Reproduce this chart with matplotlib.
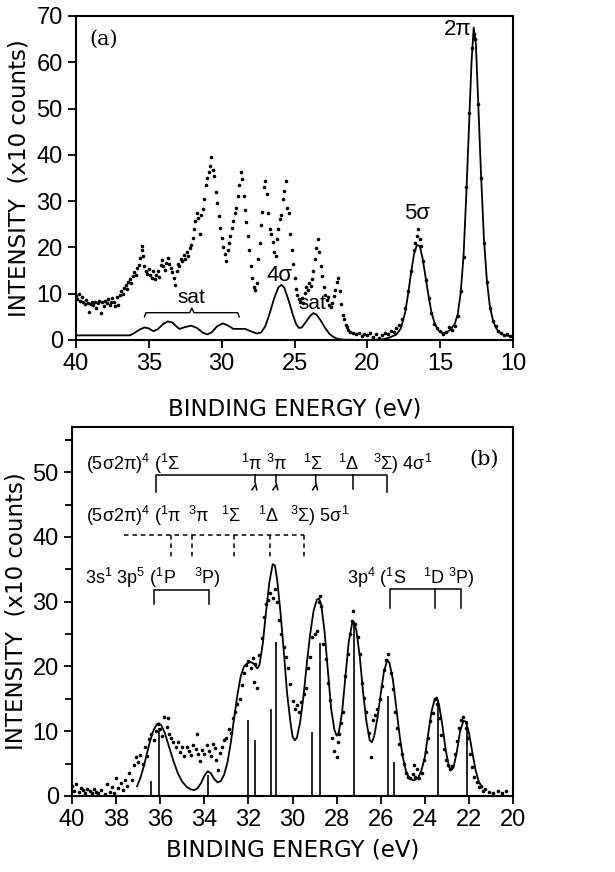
import matplotlib
matplotlib.use('Agg')
import matplotlib.pyplot as plt
from matplotlib import font_manager
from matplotlib.ticker import MultipleLocator
import numpy as np

# ---------------- panel (a): valence photoelectron spectrum ----------------
# measured points (binding energy eV, intensity x10 counts)
a_measured = [
    (40.0, 9.5), (39.9, 8.8), (39.8, 9.9), (39.7, 8.5), (39.6, 9.2), (39.5, 8.1),
    (39.4, 7.8), (39.3, 8.6), (39.2, 8.0), (39.1, 6.0), (39.0, 7.7), (38.9, 8.3),
    (38.8, 7.5), (38.7, 8.1), (38.6, 7.0), (38.5, 7.9), (38.4, 8.4), (38.3, 5.9),
    (38.2, 8.2), (38.1, 7.4), (38.0, 8.5), (37.9, 8.0), (37.8, 8.8), (37.7, 7.6),
    (37.6, 8.3), (37.5, 9.0), (37.4, 8.2), (37.3, 7.3), (37.2, 9.3), (37.1, 7.6),
    (37.0, 9.8), (36.9, 10.5), (36.8, 9.9), (36.7, 11.2), (36.6, 11.8), (36.5, 11.0),
    (36.4, 12.5), (36.3, 13.1), (36.2, 12.4), (36.1, 13.8), (36.0, 14.6), (35.9, 14.0),
    (35.8, 15.5), (35.7, 16.2), (35.6, 17.8), (35.5, 19.4), (35.45, 20.2), (35.4, 18.2),
    (35.3, 16.0), (35.2, 15.0), (35.1, 14.2), (35.0, 15.3), (34.9, 14.0), (34.8, 13.5),
    (34.7, 14.8), (34.6, 13.2), (34.5, 14.1), (34.4, 15.0), (34.3, 13.6), (34.2, 16.2),
    (34.1, 17.2), (34.0, 16.0), (33.9, 15.2), (33.8, 16.6), (33.7, 17.8), (33.6, 16.4),
    (33.5, 15.6), (33.4, 14.6), (33.3, 13.5), (33.2, 11.8), (33.1, 15.0), (33.0, 16.5),
    (32.9, 15.9), (32.8, 17.6), (32.7, 17.0), (32.6, 18.3), (32.5, 17.5), (32.4, 19.0),
    (32.3, 18.2), (32.2, 19.8), (32.1, 20.5), (32.0, 22.0), (31.9, 24.0), (31.8, 25.8),
    (31.7, 27.5), (31.6, 26.4), (31.5, 22.8), (31.4, 27.0), (31.3, 28.2), (31.2, 30.5),
    (31.1, 33.5), (31.0, 35.0), (30.9, 36.2), (30.8, 37.5), (30.7, 39.6), (30.6, 36.8),
    (30.5, 35.5), (30.4, 32.0), (30.3, 29.5), (30.2, 26.8), (30.1, 24.3), (30.0, 22.0),
    (29.9, 20.0), (29.8, 18.5), (29.7, 17.0), (29.6, 19.5), (29.5, 21.0), (29.4, 22.5),
    (29.3, 24.2), (29.2, 25.8), (29.1, 27.4), (29.0, 28.5), (28.9, 31.0), (28.8, 33.5),
    (28.7, 36.2), (28.6, 34.8), (28.5, 31.2), (28.4, 28.0), (28.3, 25.5), (28.2, 22.5),
    (28.1, 19.5), (28.0, 16.0), (27.9, 13.5), (27.8, 11.5), (27.7, 10.9), (27.6, 12.4),
    (27.5, 17.5), (27.4, 21.0), (27.3, 24.8), (27.2, 27.6), (27.1, 33.0), (27.0, 34.4),
    (26.9, 31.5), (26.8, 27.5), (26.7, 24.0), (26.6, 22.8), (26.5, 21.2), (26.4, 19.0),
    (26.3, 18.2), (26.2, 21.8), (26.1, 24.0), (26.0, 26.2), (25.9, 27.0), (25.8, 30.5),
    (25.7, 32.2), (25.6, 34.3), (25.5, 28.5), (25.4, 27.5), (25.3, 23.0), (25.2, 19.5),
    (25.1, 16.5), (25.0, 13.5), (24.9, 11.0), (24.8, 9.8), (24.7, 8.9), (24.6, 8.3),
    (24.5, 9.0), (24.4, 8.0), (24.3, 10.2), (24.2, 11.5), (24.1, 10.8), (24.0, 12.3),
    (23.9, 11.6), (23.8, 13.2), (23.7, 14.8), (23.6, 17.5), (23.5, 19.8), (23.4, 21.8),
    (23.3, 19.0), (23.2, 16.0), (23.1, 13.8), (23.0, 11.5), (22.9, 9.8), (22.8, 8.6),
    (22.7, 9.2), (22.6, 7.6), (22.5, 7.2), (22.4, 8.0), (22.3, 9.5), (22.2, 10.8),
    (22.1, 12.6), (22.0, 13.5), (21.9, 10.5), (21.8, 7.8), (21.7, 5.5), (21.6, 4.5),
    (21.5, 3.2), (21.4, 2.8), (21.3, 2.2), (21.2, 1.8), (21.0, 1.5), (20.8, 1.2),
    (20.6, 1.6), (20.4, 0.8), (20.2, 1.4), (20.0, 1.0), (19.8, 1.6), (19.6, 0.6),
    (19.4, 1.2), (19.2, 0.4), (19.0, 1.0), (18.8, 1.6), (18.6, 1.2), (18.4, 2.0),
    (18.2, 1.8), (18.0, 2.6), (17.8, 3.2), (17.6, 4.5), (17.4, 7.0), (17.2, 10.5),
    (17.0, 14.8), (16.8, 19.5), (16.7, 21.0), (16.6, 22.5), (16.5, 24.0), (16.4, 21.8),
    (16.3, 20.2), (16.2, 17.0), (16.0, 13.0), (15.8, 9.0), (15.6, 5.8), (15.4, 3.5),
    (15.2, 2.5), (15.0, 2.0), (14.8, 1.2), (14.6, 1.8), (14.4, 2.8), (14.2, 2.2),
    (14.0, 3.0), (13.8, 5.2), (13.6, 10.5), (13.4, 18.0), (13.2, 33.0), (13.0, 49.0),
    (12.8, 63.0), (12.7, 66.0), (12.6, 65.0), (12.4, 51.0), (12.2, 35.0), (12.0, 21.0),
    (11.8, 12.5), (11.6, 7.0), (11.4, 4.0), (11.2, 3.0), (11.0, 2.0), (10.8, 1.5),
    (10.6, 1.0), (10.4, 1.2), (10.2, 0.8), (10.0, 0.6),
]

# calculated spectrum (solid line)
a_calc = [
    (40.0, 1.0), (37.0, 1.0), (36.3, 1.0), (36.0, 1.5), (35.6, 2.3), (35.3, 2.7),
    (35.0, 2.5), (34.7, 1.9), (34.4, 2.3), (34.0, 3.5), (33.7, 4.0), (33.4, 3.8),
    (33.1, 2.9), (32.9, 2.4), (32.5, 2.8), (32.1, 3.1), (31.7, 2.6), (31.3, 1.6),
    (31.0, 1.2), (30.7, 1.6), (30.3, 3.0), (29.9, 3.6), (29.5, 3.0), (29.2, 2.4),
    (28.8, 2.4), (28.4, 2.4), (28.0, 1.9), (27.6, 1.4), (27.3, 1.6), (27.0, 3.0),
    (26.7, 5.8), (26.4, 9.0), (26.1, 11.4), (25.9, 11.9), (25.7, 11.3), (25.4, 8.5),
    (25.1, 5.3), (24.9, 3.5), (24.7, 2.6), (24.5, 2.7), (24.2, 4.0), (23.9, 5.3),
    (23.7, 5.8), (23.5, 5.5), (23.2, 4.2), (22.9, 2.6), (22.6, 1.3), (22.3, 0.6),
    (22.0, 0.2), (21.5, 0.05), (20.0, 0.0), (19.0, 0.1), (18.5, 0.5), (18.0, 1.2),
    (17.7, 2.5), (17.4, 6.0), (17.2, 10.0), (17.0, 14.5), (16.8, 18.5), (16.6, 20.5),
    (16.4, 20.3), (16.2, 17.5), (16.0, 13.5), (15.8, 9.5), (15.6, 6.0), (15.4, 3.8),
    (15.2, 2.4), (15.0, 1.7), (14.8, 1.5), (14.6, 1.6), (14.3, 2.2), (14.0, 3.5),
    (13.8, 5.5), (13.6, 10.0), (13.4, 18.0), (13.2, 32.0), (13.0, 48.0), (12.85, 60.0),
    (12.7, 67.5), (12.55, 64.0), (12.4, 52.0), (12.2, 36.0), (12.0, 22.0), (11.8, 13.0),
    (11.6, 7.5), (11.4, 4.5), (11.2, 2.8), (11.0, 1.8), (10.6, 1.0), (10.0, 0.8),
]

# ---------------- panel (b): inner-valence region ----------------
b_measured = [
    (40.0, 1.6), (39.9, 0.8), (39.8, 1.9), (39.7, 0.6), (39.6, 1.3), (39.5, 0.9),
    (39.4, 0.4), (39.3, 1.0), (39.2, 0.7), (39.1, 0.5), (39.0, 1.1), (38.9, 0.6),
    (38.8, 0.4), (38.7, 0.9), (38.5, 0.3), (38.4, 1.9), (38.3, 0.6), (38.2, 1.4),
    (38.1, 0.5), (38.0, 2.8), (37.9, 1.2), (37.8, 2.0), (37.7, 0.9), (37.6, 2.5),
    (37.5, 1.6), (37.4, 3.5), (37.3, 2.4), (37.2, 4.8), (37.1, 6.0), (37.0, 5.2),
    (36.9, 6.4), (36.8, 5.0), (36.7, 7.6), (36.6, 6.1), (36.5, 8.8), (36.4, 9.6),
    (36.3, 8.6), (36.2, 10.0), (36.1, 11.1), (36.0, 10.3), (35.9, 9.2), (35.85, 12.2),
    (35.7, 10.6), (35.65, 12.0), (35.6, 9.5), (35.5, 8.9), (35.4, 8.4), (35.3, 7.6),
    (35.2, 8.3), (35.1, 6.8), (35.0, 7.5), (34.9, 6.2), (34.8, 7.6), (34.7, 7.0),
    (34.6, 6.4), (34.5, 7.8), (34.4, 7.2), (34.35, 9.6), (34.3, 6.5), (34.2, 5.4),
    (34.1, 7.1), (34.0, 6.5), (33.9, 7.8), (33.8, 7.0), (33.7, 6.1), (33.6, 8.0),
    (33.5, 7.4), (33.45, 5.5), (33.4, 4.0), (33.3, 6.6), (33.2, 7.6), (33.1, 8.6),
    (33.0, 9.0), (32.9, 10.4), (32.8, 9.8), (32.7, 12.1), (32.6, 12.9), (32.5, 14.2),
    (32.4, 15.0), (32.3, 17.2), (32.2, 19.0), (32.1, 20.3), (32.0, 20.9), (31.9, 19.8),
    (31.8, 21.3), (31.75, 17.6), (31.7, 20.4), (31.6, 16.6), (31.5, 21.8), (31.4, 24.4),
    (31.3, 27.6), (31.2, 29.6), (31.1, 30.2), (31.0, 31.4), (30.9, 30.6), (30.8, 31.9),
    (30.7, 30.0), (30.6, 27.2), (30.5, 25.0), (30.4, 23.0), (30.3, 21.4), (30.2, 19.8),
    (30.1, 17.3), (30.0, 14.6), (29.9, 13.4), (29.8, 14.0), (29.7, 13.0), (29.6, 14.5),
    (29.5, 15.8), (29.4, 16.6), (29.3, 19.8), (29.2, 21.4), (29.1, 24.6), (29.0, 25.0),
    (28.9, 25.5), (28.8, 30.0), (28.75, 30.9), (28.7, 29.4), (28.6, 23.5), (28.5, 21.2),
    (28.4, 17.5), (28.3, 14.8), (28.2, 9.0), (28.1, 7.0), (28.0, 6.0), (27.95, 8.4),
    (27.9, 9.6), (27.8, 11.2), (27.7, 13.0), (27.6, 18.5), (27.5, 22.0), (27.4, 25.0),
    (27.3, 27.0), (27.25, 28.6), (27.15, 26.6), (27.05, 24.5), (26.95, 22.0), (26.85, 17.5),
    (26.75, 15.2), (26.65, 13.0), (26.55, 9.8), (26.45, 6.0), (26.35, 11.8), (26.25, 12.5),
    (26.15, 13.5), (26.05, 15.0), (25.95, 17.0), (25.85, 19.5), (25.75, 21.0), (25.65, 22.0),
    (25.55, 19.0), (25.45, 16.5), (25.35, 13.0), (25.25, 10.5), (25.15, 8.0), (25.05, 6.5),
    (24.95, 5.0), (24.85, 3.6), (24.75, 3.0), (24.65, 2.7), (24.55, 3.4), (24.5, 4.8),
    (24.45, 3.0), (24.35, 4.2), (24.25, 2.8), (24.15, 3.5), (24.05, 5.5), (23.95, 6.8),
    (23.85, 9.0), (23.75, 11.6), (23.65, 12.8), (23.55, 15.0), (23.45, 14.2), (23.35, 12.0),
    (23.25, 9.4), (23.15, 7.2), (23.05, 5.5), (22.95, 4.8), (22.85, 4.2), (22.75, 4.6),
    (22.65, 6.5), (22.55, 8.5), (22.45, 10.5), (22.35, 11.8), (22.25, 12.2), (22.15, 10.5),
    (22.05, 9.0), (21.95, 6.5), (21.85, 4.5), (21.75, 3.0), (21.65, 2.2), (21.55, 1.4),
    (21.45, 1.6), (21.35, 0.8), (21.25, 1.1), (21.1, 0.6), (20.9, 0.4), (20.7, 0.8),
    (20.5, 0.5), (20.3, 0.7),
]

b_calc = [
    (37.05, 1.5), (36.9, 2.8), (36.75, 4.5), (36.6, 6.6), (36.45, 8.6), (36.3, 10.2),
    (36.15, 11.1), (36.05, 11.2), (35.95, 10.9), (35.8, 9.8), (35.6, 7.6), (35.4, 5.4),
    (35.2, 3.5), (35.0, 2.2), (34.8, 1.4), (34.6, 1.0), (34.45, 0.9), (34.3, 1.2),
    (34.15, 2.0), (34.0, 3.1), (33.85, 3.8), (33.7, 3.5), (33.55, 2.6), (33.4, 2.1),
    (33.25, 2.3), (33.1, 3.3), (32.95, 5.2), (32.8, 8.2), (32.65, 12.0), (32.5, 15.6),
    (32.35, 18.5), (32.2, 20.0), (32.05, 20.5), (31.9, 20.7), (31.75, 20.4), (31.6, 19.7),
    (31.5, 20.2), (31.35, 23.5), (31.2, 28.5), (31.05, 33.0), (30.9, 35.8), (30.8, 35.6),
    (30.7, 33.5), (30.55, 28.5), (30.4, 22.5), (30.25, 16.0), (30.1, 11.5), (30.0, 9.2),
    (29.9, 8.6), (29.8, 9.0), (29.65, 11.5), (29.5, 15.5), (29.35, 20.5), (29.2, 25.0),
    (29.05, 28.5), (28.9, 30.3), (28.8, 30.5), (28.7, 29.6), (28.55, 25.5), (28.4, 19.5),
    (28.25, 13.5), (28.1, 10.2), (28.0, 9.3), (27.9, 9.8), (27.75, 13.0), (27.6, 18.5),
    (27.45, 23.8), (27.3, 26.6), (27.2, 26.8), (27.1, 25.5), (26.95, 21.5), (26.8, 16.0),
    (26.65, 11.5), (26.5, 8.6), (26.4, 8.3), (26.3, 9.2), (26.15, 12.0), (26.0, 15.8),
    (25.85, 19.3), (25.7, 21.0), (25.6, 20.5), (25.45, 18.0), (25.3, 13.8), (25.15, 9.5),
    (25.0, 6.0), (24.85, 3.8), (24.7, 2.7), (24.5, 2.4), (24.3, 2.8), (24.15, 4.0),
    (24.0, 6.0), (23.85, 9.5), (23.7, 13.0), (23.55, 15.0), (23.45, 15.2), (23.35, 14.0),
    (23.2, 10.8), (23.05, 7.0), (22.9, 4.5), (22.8, 4.0), (22.7, 4.4), (22.55, 6.8),
    (22.4, 10.0), (22.25, 11.6), (22.15, 11.5), (22.0, 9.8), (21.85, 6.8), (21.7, 4.0),
    (21.55, 2.2), (21.4, 1.3),
]

# line spectrum (pole strengths)
b_stick_energy = [36.40, 36.07, 33.83, 32.03, 31.72, 30.96, 30.74, 29.12, 28.76,
                  27.23, 25.67, 25.39, 23.42, 22.10]
b_stick_height = [2.3, 10.5, 3.2, 11.8, 8.7, 13.4, 23.8, 9.9, 23.7,
                  26.8, 15.5, 5.3, 14.8, 11.6]

# ---------------- fonts ----------------
names = {f.name for f in font_manager.fontManager.ttflist}
num_font = 'Liberation Sans Narrow' if 'Liberation Sans Narrow' in names else 'Liberation Sans'
plt.rcParams['font.family'] = [num_font, 'DejaVu Sans']
plt.rcParams['mathtext.fontset'] = 'custom'
plt.rcParams['mathtext.rm'] = num_font
plt.rcParams['mathtext.it'] = num_font
plt.rcParams['mathtext.bf'] = num_font
label_font = {'family': ['DejaVu Sans'], 'size': 16.5}


def style_axes(ax):
    for s in ax.spines.values():
        s.set_linewidth(1.5)
    ax.tick_params(which='both', direction='out', width=1.3, labelsize=17)
    ax.tick_params(which='major', length=6)
    ax.tick_params(which='minor', length=5)


def fork_tick(ax, e, top, bottom):
    # small lambda-shaped tick (two close lines)
    mid = bottom + 0.5 * (top - bottom)
    ax.plot([e, e, e - 0.08], [top, mid, bottom], color='k', lw=1.1)
    ax.plot([e - 0.02, e + 0.14], [mid - 0.4, bottom], color='k', lw=1.1)


fig = plt.figure(figsize=(6.15, 8.72), dpi=100)
ax1 = fig.add_axes([0.1236, 0.6101, 0.7106, 0.3716])
ax2 = fig.add_axes([0.1171, 0.0872, 0.7171, 0.4232])

# ---- panel (a) ----
e, i = np.array(a_measured).T
ax1.plot(e, i, 'o', color='k', ms=2.6, mew=0)
e, i = np.array(a_calc).T
ax1.plot(e, i, color='k', lw=1.3)
ax1.set_xlim(40, 10)
ax1.set_ylim(0, 70)
ax1.xaxis.set_major_locator(MultipleLocator(5))
ax1.yaxis.set_major_locator(MultipleLocator(10))
style_axes(ax1)
ax1.set_xlabel('BINDING ENERGY (eV)', fontdict=label_font, labelpad=16)
ax1.set_ylabel('INTENSITY  (x10 counts)', fontdict=label_font, labelpad=4)

ax1.text(38.1, 65, '(a)', family='DejaVu Serif', fontsize=15, ha='center', va='center')
ax1.text(13.8, 67, '2π', fontsize=16, ha='center', va='center')
ax1.text(16.6, 27.3, '5σ', fontsize=16, ha='center', va='center')
ax1.text(26.05, 14, '4σ', fontsize=16, ha='center', va='center')
ax1.text(32.05, 9.2, 'sat', fontsize=15, ha='center', va='center')
ax1.text(23.8, 7.9, 'sat', fontsize=15, ha='center', va='center')
ax1.plot([35.3, 35.2, 32.2, 32.05, 31.9, 28.9, 28.8],
         [5.0, 5.9, 5.9, 6.9, 5.9, 5.9, 5.0], color='k', lw=1.0)

# ---- panel (b) ----
e, i = np.array(b_measured).T
ax2.plot(e, i, 'o', color='k', ms=2.6, mew=0)
e, i = np.array(b_calc).T
ax2.plot(e, i, color='k', lw=1.3)
ax2.vlines(b_stick_energy, 0, b_stick_height, color='k', lw=1.2)
ax2.set_xlim(40, 20)
ax2.set_ylim(0, 57)
ax2.xaxis.set_major_locator(MultipleLocator(2))
ax2.yaxis.set_major_locator(MultipleLocator(10))
ax2.yaxis.set_minor_locator(MultipleLocator(5))
style_axes(ax2)
ax2.set_xlabel('BINDING ENERGY (eV)', fontdict=label_font, labelpad=5)
ax2.set_ylabel('INTENSITY  (x10 counts)', fontdict=label_font, labelpad=4)

ax2.text(21.3, 52, '(b)', family='DejaVu Serif', fontsize=15, ha='center', va='center')

ann = dict(fontsize=13, va='center')
# (5σ2π)^4 ... 4σ^1 bracket
y1 = 51.3
ax2.text(39.35, y1, r'(5σ2π)${}^{4}$ (${}^{1}$Σ', ha='left', **ann)
ax2.text(31.85, y1, r'${}^{1}$π', ha='center', **ann)
ax2.text(30.7, y1, r'${}^{3}$π', ha='center', **ann)
ax2.text(29.05, y1, r'${}^{1}$Σ', ha='center', **ann)
ax2.text(27.45, y1, r'${}^{1}$Δ', ha='center', **ann)
ax2.text(26.35, y1, r'${}^{3}$Σ) 4σ${}^{1}$', ha='left', **ann)
ax2.plot([36.2, 36.2, 25.7, 25.7], [47.0, 49.6, 49.6, 47.0], color='k', lw=1.1)
ax2.plot([27.25, 27.25], [49.6, 47.4], color='k', lw=1.1)
for ef in [31.7, 30.75, 28.95]:
    fork_tick(ax2, ef, 49.6, 47.3)

# (5σ2π)^4 ... 5σ^1 dashed bracket
y2 = 43.2
ax2.text(39.35, y2, r'(5σ2π)${}^{4}$ (${}^{1}$π', ha='left', **ann)
ax2.text(34.25, y2, r'${}^{3}$π', ha='center', **ann)
ax2.text(32.8, y2, r'${}^{1}$Σ', ha='center', **ann)
ax2.text(31.1, y2, r'${}^{1}$Δ', ha='center', **ann)
ax2.text(30.1, y2, r'${}^{3}$Σ) 5σ${}^{1}$', ha='left', **ann)
ax2.plot([37.65, 29.5], [40.3, 40.3], color='k', lw=1.1, ls=(0, (3, 2.5)))
for ed in [35.53, 34.55, 32.65, 31.03, 29.5]:
    ax2.plot([ed, ed], [40.3, 36.4], color='k', lw=1.1, ls=(0, (3, 2.5)))

# 3s^1 3p^5 and 3p^4 brackets
y3 = 33.6
ax2.text(39.4, y3, r'3s${}^{1}$ 3p${}^{5}$ (${}^{1}$P', ha='left', **ann)
ax2.text(33.85, y3, r'${}^{3}$P)', ha='center', **ann)
ax2.plot([36.3, 36.3, 33.8, 33.8], [29.6, 31.8, 31.8, 29.6], color='k', lw=1.1)
ax2.text(27.55, y3, r'3p${}^{4}$ (${}^{1}$S', ha='left', **ann)
ax2.text(23.6, y3, r'${}^{1}$D', ha='center', **ann)
ax2.text(22.35, y3, r'${}^{3}$P)', ha='center', **ann)
ax2.plot([25.6, 25.6, 22.35, 22.35], [29.1, 31.9, 31.9, 29.1], color='k', lw=1.1)
ax2.plot([23.55, 23.55], [31.9, 29.1], color='k', lw=1.1)

fig.savefig('out.png', dpi=100)
